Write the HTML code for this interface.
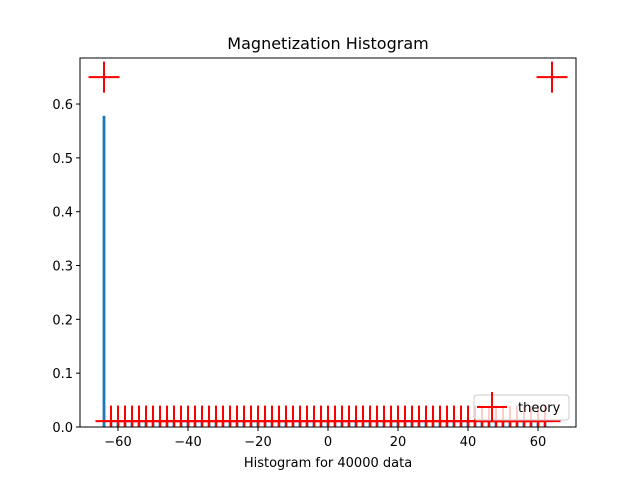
<!DOCTYPE html>
<html><head><meta charset="utf-8"><style>
body{margin:0;background:#fff;}
svg text{font-family:"DejaVu Sans","Liberation Sans",sans-serif;}
</style></head><body>
<svg id="chart" width="640" height="480" xmlns="http://www.w3.org/2000/svg">
<rect width="640" height="480" fill="#fff"/>
<text x="328" y="49" font-size="16" text-anchor="middle">Magnetization Histogram</text>
<g id="bars"></g>
<g id="marks"></g>
<rect x="80" y="58" width="496" height="369" fill="none" stroke="#000" stroke-width="1"/>
<g id="xticks"></g>
<g id="yticks"></g>
<text x="328" y="467" font-size="13" text-anchor="middle">Histogram for 40000 data</text>
<g>
<rect x="474" y="395" width="95" height="25" rx="3" fill="#fff" fill-opacity="0.8" stroke="#ccc"/>
<line x1="477" y1="407" x2="507" y2="407" stroke="red" stroke-width="2"/>
<line x1="492" y1="392" x2="492" y2="422" stroke="red" stroke-width="2"/>
<text x="518" y="412" font-size="13">theory</text>
</g>
</svg>
<script>
const barCenters=[-64,-62,-60,-58,-56,-54,-52,-50,-48,-46,-44,-42,-40,-38,-36,-34,-32,-30,-28,-26,-24,-22,-20,-18,-16,-14,-12,-10,-8,-6,-4,-2,0,2,4,6,8,10,12,14,16,18,20,22,24,26,28,30,32,34,36,38,40,42,44,46,48,50,52,54,56,58,60,62];
const barValues=[0.578,0.009,0.008,0.009,0.008,0.009,0.01,0.009,0.01,0.011,0.011,0.012,0.012,0.011,0.012,0.012,0.012,0.013,0.012,0.012,0.012,0.012,0.012,0.012,0.012,0.012,0.012,0.012,0.012,0.012,0.012,0.012,0.012,0.012,0.012,0.012,0.012,0.012,0.012,0.012,0.012,0.012,0.012,0.012,0.012,0.012,0.012,0.012,0.012,0.012,0.012,0.012,0.011,0.011,0.011,0.011,0.01,0.01,0.009,0.009,0.009,0.009,0.008,0.008];
const theoryX=[-64,-62,-60,-58,-56,-54,-52,-50,-48,-46,-44,-42,-40,-38,-36,-34,-32,-30,-28,-26,-24,-22,-20,-18,-16,-14,-12,-10,-8,-6,-4,-2,0,2,4,6,8,10,12,14,16,18,20,22,24,26,28,30,32,34,36,38,40,42,44,46,48,50,52,54,56,58,60,62,64];
const theoryY=[0.65,0.011,0.011,0.011,0.011,0.011,0.011,0.011,0.011,0.011,0.011,0.011,0.011,0.011,0.011,0.011,0.011,0.011,0.011,0.011,0.011,0.011,0.011,0.011,0.011,0.011,0.011,0.011,0.011,0.011,0.011,0.011,0.011,0.011,0.011,0.011,0.011,0.011,0.011,0.011,0.011,0.011,0.011,0.011,0.011,0.011,0.011,0.011,0.011,0.011,0.011,0.011,0.011,0.011,0.011,0.011,0.011,0.011,0.011,0.011,0.011,0.011,0.011,0.011,0.65];
const xTicks=[-60,-40,-20,0,20,40,60];
const yTicks=[0,0.1,0.2,0.3,0.4,0.5,0.6];
const yTickLabels=["0.0","0.1","0.2","0.3","0.4","0.5","0.6"];
const NS="http://www.w3.org/2000/svg";
const X0=80,X1=576,Y0=427,Y1=58,xmin=-70.86,xmax=70.86,ymin=0,ymax=0.6855;
const sx=v=>X0+(v-xmin)/(xmax-xmin)*(X1-X0);
const sy=v=>Y0-(v-ymin)/(ymax-ymin)*(Y0-Y1);
function mk(tag,a,p){const e=document.createElementNS(NS,tag);for(const k in a)e.setAttribute(k,a[k]);p.appendChild(e);return e;}
const bars=document.getElementById('bars');
barCenters.forEach((c,i)=>{
 const w=sx(0.8)-sx(0);
 const r=mk('rect',{x:sx(c)-w/2,y:sy(barValues[i]),width:w,height:sy(0)-sy(barValues[i]),fill:'#1f77b4'},bars);
 
 
});
const marks=document.getElementById('marks');
mk('clipPath',{id:'clip'},document.getElementById('chart')).appendChild(Object.assign(document.createElementNS(NS,'rect'),{}));
const cr=document.querySelector('#clip rect');cr.setAttribute('x',X0);cr.setAttribute('y',Y1);cr.setAttribute('width',X1-X0);cr.setAttribute('height',Y0-Y1);
marks.setAttribute('clip-path','url(#clip)');
theoryX.forEach((t,i)=>{
 const cx=sx(t),cy=sy(theoryY[i]),h=15.5;
 const g=mk('g',{},marks);
 
 
 mk('line',{x1:cx-h,y1:cy,x2:cx+h,y2:cy,stroke:'red','stroke-width':2},g);
 mk('line',{x1:cx,y1:cy-h,x2:cx,y2:cy+h,stroke:'red','stroke-width':2},g);
});
const xt=document.getElementById('xticks');
xTicks.forEach(v=>{
 const x=sx(v);
 mk('line',{x1:x,y1:Y0,x2:x,y2:Y0+4,stroke:'#000'},xt);
 const t=mk('text',{x:x,y:Y0+19,'font-size':13,'text-anchor':'middle'},xt);
 t.textContent=(v<0?'\u2212'+(-v):v);
 
 
});
const yt=document.getElementById('yticks');
yTicks.forEach((v,i)=>{
 const y=sy(v);
 mk('line',{x1:X0-4,y1:y,x2:X0,y2:y,stroke:'#000'},yt);
 const t=mk('text',{x:X0-7,y:y+5,'font-size':13,'text-anchor':'end'},yt);
 t.textContent=yTickLabels[i];
 
 
});
</script>
</body></html>
